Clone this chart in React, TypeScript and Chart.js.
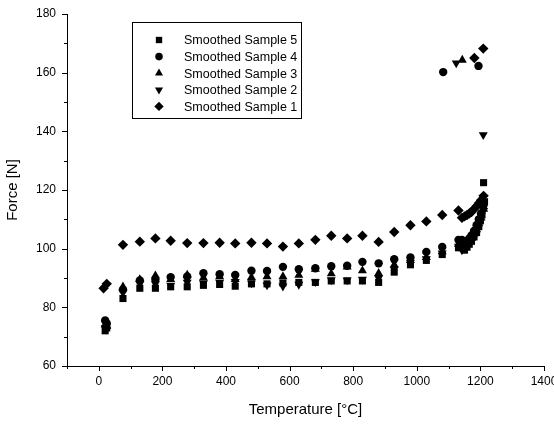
import React, { useEffect, useRef } from "react";
import { Chart, registerables } from "chart.js";

Chart.register(...registerables);

// ---- Data (Temperature [°C], Force [N]) ----
const s5T = [20, 25, 76, 129, 178, 226, 278, 329, 380, 429, 480, 529, 579, 629, 681, 731, 781, 829, 880, 929, 980, 1030, 1080, 1131, 1142, 1150, 1158, 1165, 1172, 1180, 1188, 1195, 1200, 1205, 1210, 1213, 1210];
const s5F = [72, 73, 83, 86.5, 86.5, 87, 87, 87.5, 87.8, 87.2, 88, 88, 88.3, 88.5, 88.5, 89, 89, 89, 88.5, 92, 94.5, 96, 98, 100.3, 100.5, 99.5, 100.5, 101.5, 102.5, 104, 105.5, 107.5, 109.5, 111.5, 114, 116, 122.5];

const s4T = [20, 25, 76, 129, 178, 226, 278, 329, 380, 429, 480, 529, 579, 629, 681, 731, 781, 829, 880, 929, 980, 1030, 1080, 1131, 1142, 1150, 1158, 1165, 1172, 1180, 1188, 1195, 1202, 1210, 1083, 1194];
const s4F = [75.5, 74.5, 86, 89.2, 89.5, 90.3, 90.5, 91.6, 91.3, 91, 92.5, 92.4, 93.8, 93, 93.3, 94, 94.2, 95.5, 95, 96.4, 97, 98.9, 100.6, 103, 103, 102, 102.5, 103.5, 104.5, 106, 108, 110, 112, 115, 160.2, 162.3];

const s3T = [20, 25, 76, 129, 178, 226, 278, 329, 380, 429, 480, 529, 579, 629, 681, 731, 781, 829, 880, 929, 980, 1030, 1080, 1131, 1142, 1150, 1158, 1165, 1172, 1180, 1188, 1195, 1202, 1210, 1143];
const s3F = [74, 73.5, 87, 89.5, 90.8, 89.5, 91, 90, 90.5, 89.5, 90.2, 90.5, 90.5, 91, 93, 91.5, 93.8, 92.5, 91.6, 94.5, 96, 97, 99, 101.5, 101.5, 101, 101.5, 102.5, 103.5, 105, 106.5, 108.5, 110.5, 113.5, 164.3];

const s2T = [20, 25, 76, 129, 178, 226, 278, 329, 380, 429, 480, 529, 579, 629, 681, 731, 781, 829, 880, 929, 980, 1030, 1080, 1131, 1142, 1150, 1158, 1165, 1172, 1180, 1188, 1195, 1202, 1210, 1124, 1209];
const s2F = [73, 72.5, 85, 88, 88, 87.5, 88.5, 88.3, 88.5, 88.8, 88.3, 87.6, 87.2, 87.8, 88.7, 89.3, 89.3, 89.5, 90, 93, 95.3, 96.5, 98.5, 100.8, 99.5, 100, 101, 102, 103, 104.5, 106.5, 108.5, 111, 113, 163.3, 138.8];

const s1T = [15, 25, 76, 129, 178, 226, 278, 329, 380, 429, 480, 529, 579, 629, 681, 731, 781, 829, 880, 929, 980, 1030, 1080, 1131, 1142, 1150, 1158, 1165, 1172, 1180, 1188, 1195, 1202, 1210, 1181, 1209];
const s1F = [86.5, 88, 101.3, 102.4, 103.5, 102.7, 101.9, 101.9, 102, 101.8, 102, 101.8, 100.7, 101.8, 103, 104.4, 103.5, 104.4, 102.3, 105.7, 108, 109.3, 111.5, 113, 110.5, 111, 111.5, 112, 112.5, 113.5, 114.5, 115.5, 116.5, 118, 165, 168.2];

const seriesLabels = ["Smoothed Sample 5", "Smoothed Sample 4", "Smoothed Sample 3", "Smoothed Sample 2", "Smoothed Sample 1"];
const xTickLabelsEvery = 200;
const yTickLabelsEvery = 20;

const FONT = "'Liberation Sans', Arial, Helvetica, sans-serif";

type Marker = { style: string; radius: number; rotation: number };
const markers: Marker[] = [
  { style: "rect", radius: 5, rotation: 0 },
  { style: "circle", radius: 4.2, rotation: 0 },
  { style: "triangle", radius: 5.2, rotation: 0 },
  { style: "triangle", radius: 5.2, rotation: 180 },
  { style: "rectRot", radius: 5.2, rotation: 0 },
];

function toPts(t: number[], f: number[]) {
  return t.map((x, i) => ({ x, y: f[i] }));
}

function drawMarker(ctx: CanvasRenderingContext2D, m: Marker, x: number, y: number, scale: number) {
  const r = m.radius * scale;
  ctx.beginPath();
  if (m.style === "rect") {
    const s = Math.SQRT1_2 * r;
    ctx.rect(x - s, y - s, 2 * s, 2 * s);
  } else if (m.style === "circle") {
    ctx.arc(x, y, r, 0, Math.PI * 2);
  } else if (m.style === "rectRot") {
    ctx.moveTo(x, y - r);
    ctx.lineTo(x + r, y);
    ctx.lineTo(x, y + r);
    ctx.lineTo(x - r, y);
    ctx.closePath();
  } else if (m.style === "triangle") {
    const sgn = m.rotation === 180 ? -1 : 1;
    let a = 0;
    ctx.moveTo(x + Math.sin(a) * r, y - sgn * Math.cos(a) * r);
    a += (2 * Math.PI) / 3;
    ctx.lineTo(x + Math.sin(a) * r, y - sgn * Math.cos(a) * r);
    a += (2 * Math.PI) / 3;
    ctx.lineTo(x + Math.sin(a) * r, y - sgn * Math.cos(a) * r);
    ctx.closePath();
  }
  ctx.fill();
}

const ticksPlugin = {
  id: "originTicks",
  afterDraw(chart: any) {
    const ctx = chart.ctx as CanvasRenderingContext2D;
    const xs = chart.scales.x;
    const ys = chart.scales.y;
    ctx.save();
    ctx.strokeStyle = "#000";
    ctx.lineWidth = 1;
    for (const t of xs.ticks) {
      const px = Math.round(xs.getPixelForValue(t.value)) + 0.5;
      const len = t.value % xTickLabelsEvery === 0 ? 5 : 3;
      ctx.beginPath();
      ctx.moveTo(px, xs.top);
      ctx.lineTo(px, xs.top + len);
      ctx.stroke();
    }
    for (const t of ys.ticks) {
      const py = Math.round(ys.getPixelForValue(t.value)) + 0.5;
      const len = t.value % yTickLabelsEvery === 0 ? 5 : 3;
      ctx.beginPath();
      ctx.moveTo(ys.right, py);
      ctx.lineTo(ys.right - len, py);
      ctx.stroke();
    }
    ctx.restore();
  },
};

const legendPlugin = {
  id: "boxLegend",
  afterDraw(chart: any) {
    const ctx = chart.ctx as CanvasRenderingContext2D;
    ctx.save();
    ctx.font = `12.5px ${FONT}`;
    const left = 132;
    const top = 22;
    const rowH = 16.6;
    const firstRow = 40;
    const markerX = 159;
    const textX = 184;
    let maxW = 0;
    for (const l of seriesLabels) maxW = Math.max(maxW, ctx.measureText(l).width);
    const right = Math.round(textX + maxW + 4);
    const bottom = Math.round(firstRow + rowH * (seriesLabels.length - 1) + 12);
    ctx.fillStyle = "#fff";
    ctx.fillRect(left, top, right - left, bottom - top);
    ctx.strokeStyle = "#000";
    ctx.lineWidth = 1;
    ctx.strokeRect(left + 0.5, top + 0.5, right - left, bottom - top);
    ctx.fillStyle = "#000";
    ctx.textBaseline = "middle";
    seriesLabels.forEach((l, i) => {
      const y = firstRow + i * rowH;
      drawMarker(ctx, markers[i], markerX, y, 0.9);
      ctx.fillText(l, textX, y + 1);
    });
    ctx.restore();
  },
};

export default function App() {
  const ref = useRef<HTMLCanvasElement | null>(null);
  useEffect(() => {
    if (!ref.current) return;
    const series = [toPts(s5T, s5F), toPts(s4T, s4F), toPts(s3T, s3F), toPts(s2T, s2F), toPts(s1T, s1F)];
    const chart = new Chart(ref.current, {
      type: "scatter",
      data: {
        datasets: series.map((d, i) => ({
          label: seriesLabels[i],
          data: d,
          pointStyle: markers[i].style as any,
          pointRadius: markers[i].radius,
          pointRotation: markers[i].rotation,
          backgroundColor: "#000",
          borderColor: "#000",
          borderWidth: 0,
          showLine: false,
        })),
      },
      options: {
        animation: false,
        responsive: false,
        devicePixelRatio: 1,
        layout: { padding: { left: 0, top: 14, right: 10, bottom: 0 }, autoPadding: false },
        plugins: { legend: { display: false }, tooltip: { enabled: false } },
        scales: {
          x: {
            type: "linear",
            min: -100,
            max: 1400,
            ticks: {
              stepSize: 100,
              autoSkip: false,
              maxRotation: 0,
              color: "#000",
              font: { family: FONT, size: 12 },
              padding: 3,
              callback: (v: any) => (Number(v) % xTickLabelsEvery === 0 ? String(v) : ""),
            },
            grid: { display: true, drawOnChartArea: false, drawTicks: true, tickLength: 5, color: "rgba(0,0,0,0)", tickColor: "rgba(0,0,0,0)" },
            border: { display: true, color: "#000", width: 1 },
            title: { display: true, text: "Temperature [°C]", color: "#000", font: { family: FONT, size: 15 }, padding: { top: 0, bottom: 11 } },
            afterFit: (s: any) => {
              s.height = 64;
              s.paddingLeft = 0;
              s.paddingRight = 0;
            },
          },
          y: {
            type: "linear",
            min: 60,
            max: 180,
            ticks: {
              stepSize: 10,
              autoSkip: false,
              color: "#000",
              font: { family: FONT, size: 12 },
              padding: 6,
              callback: (v: any) => (Number(v) % yTickLabelsEvery === 0 ? String(v) : ""),
            },
            grid: { display: true, drawOnChartArea: false, drawTicks: true, tickLength: 5, color: "rgba(0,0,0,0)", tickColor: "rgba(0,0,0,0)" },
            border: { display: true, color: "#000", width: 1 },
            title: { display: true, text: "Force [N]", color: "#000", font: { family: FONT, size: 15 }, padding: { top: 4, bottom: 0 } },
            afterFit: (s: any) => {
              s.width = 67;
              s.paddingTop = 0;
              s.paddingBottom = 0;
            },
          },
        },
      },
      plugins: [ticksPlugin, legendPlugin],
    });
    return () => chart.destroy();
  }, []);
  return (
    <div style={{ position: "absolute", left: 0, top: 0, width: 554, height: 430, overflow: "hidden", background: "#fff" }}>
      <canvas ref={ref} width={554} height={430} style={{ width: 554, height: 430, display: "block" }} />
    </div>
  );
}
